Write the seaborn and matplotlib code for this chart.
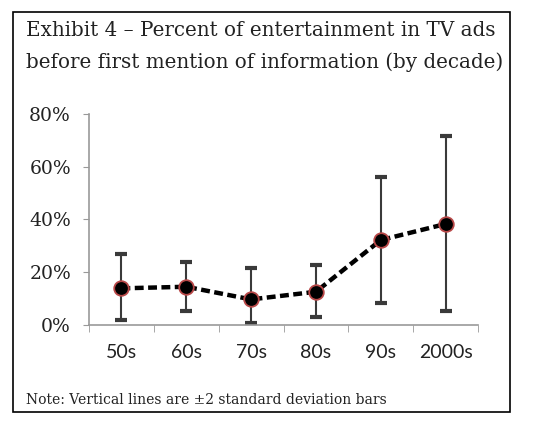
import matplotlib.pyplot as plt
import matplotlib.patches as patches
import seaborn as sns
import pandas as pd
import numpy as np

sns.set_style("white")

# Data (share of ad time before first information cue)
decades = ['50s', '60s', '70s', '80s', '90s', '2000s']
mean_pct = [0.139, 0.145, 0.097, 0.126, 0.322, 0.383]
lower_pct = [0.019, 0.053, 0.009, 0.032, 0.082, 0.054]
upper_pct = [0.268, 0.240, 0.217, 0.227, 0.562, 0.718]

df = pd.DataFrame({'decade': decades, 'mean': mean_pct,
                   'lower': lower_pct, 'upper': upper_pct})
df['x'] = np.arange(len(df))

fig = plt.figure(figsize=(5.35, 4.25), dpi=100)
ax = fig.add_axes([0.1664, 0.2353, 0.7271, 0.4965])

# error bars (+/- 2 sd)
yerr = np.array([df['mean'] - df['lower'], df['upper'] - df['mean']])
ax.errorbar(df['x'], df['mean'], yerr=yerr, fmt='none', ecolor='#3a3a3a',
            elinewidth=1.5, capsize=4.5, capthick=3.0, zorder=2)

# dashed trend line with markers
sns.lineplot(data=df, x='x', y='mean', ax=ax, color='black', linewidth=3.2,
             linestyle=(0, (2.0, 1.0)), marker='o', markersize=10.5,
             markerfacecolor='black', markeredgecolor='#b84848',
             markeredgewidth=1.3, zorder=3)

ax.set_xlim(-0.5, len(decades) - 0.5)
ax.set_ylim(0, 0.8)
ax.set_yticks([0, 0.2, 0.4, 0.6, 0.8])
ax.set_yticklabels(['0%', '20%', '40%', '60%', '80%'],
                   fontsize=13.5, family='DejaVu Serif', color='#222222')
ax.set_xticks(df['x'])
ax.set_xticklabels(decades, fontsize=14, family='Lato', color='#222222')
ax.set_xticks(np.arange(len(decades) + 1) - 0.5, minor=True)
ax.tick_params(axis='x', which='major', length=0, pad=14)
ax.tick_params(axis='x', which='minor', length=5, color='#999999', bottom=True)
ax.tick_params(axis='y', length=4, color='#999999', left=True, pad=9)
ax.set_xlabel('')
ax.set_ylabel('')

sns.despine(ax=ax)
for side in ['left', 'bottom']:
    ax.spines[side].set_color('#999999')
    ax.spines[side].set_linewidth(1.2)

# framed exhibit box
frame = patches.Rectangle((13 / 535, 1 - 412 / 425), 497 / 535, 400 / 425,
                          transform=fig.transFigure, fill=False,
                          edgecolor='black', linewidth=1.2)
fig.patches.append(frame)

fig.text(26 / 535, 1 - 30 / 425, 'Exhibit 4 \u2013 Percent of entertainment in TV ads',
         fontsize=14.3, family='DejaVu Serif', color='#222222', va='center')
fig.text(26 / 535, 1 - 62 / 425, 'before first mention of information (by decade)',
         fontsize=14.3, family='DejaVu Serif', color='#222222', va='center')
fig.text(26 / 535, 1 - 400 / 425, 'Note: Vertical lines are \u00b12 standard deviation bars',
         fontsize=10, family='DejaVu Serif', color='#222222', va='center')

fig.savefig('out.png', dpi=100)
